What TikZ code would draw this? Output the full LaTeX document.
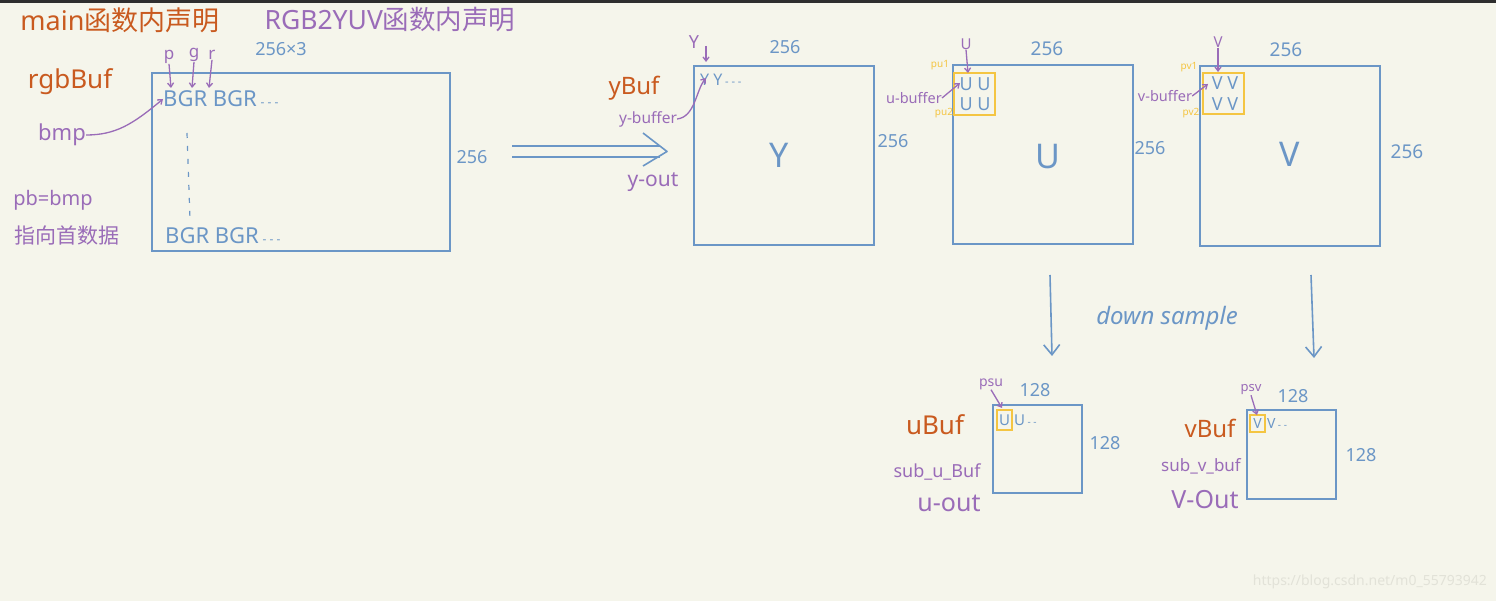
\documentclass[tikz,border=0pt]{standalone}
\usepackage{fontspec}
\setmainfont{Noto Sans}
\newfontfamily\cjk{Noto Sans CJK SC}
\usetikzlibrary{arrows.meta,calc}
\definecolor{bg}{HTML}{F5F5EB}
\definecolor{darkbar}{HTML}{2E2E2E}
\definecolor{hblue}{HTML}{6B96C6}
\definecolor{horange}{HTML}{C95A1F}
\definecolor{hpurple}{HTML}{9A6CB8}
\definecolor{hyellow}{HTML}{F4C542}
\definecolor{wm}{HTML}{E2E2D8}
\begin{document}
\begin{tikzpicture}[x=1pt,y=-1pt,
  blbox/.style={draw=hblue, line width=2pt, inner sep=0pt},
  ylbox/.style={draw=hyellow, line width=2pt, inner sep=0pt},
  txt/.style={inner sep=0pt},
  bl/.style={txt, text=hblue},
  org/.style={txt, text=horange},
  pur/.style={txt, text=hpurple},
  yel/.style={txt, text=hyellow},
  fs/.style={font=\fontsize{#1}{#1}\selectfont},
  parrow/.style={draw=hpurple, line width=1.3pt, -{Straight Barb[length=4pt,width=6pt]}},
  barrow/.style={draw=hblue, line width=1.6pt, -{Straight Barb[length=10pt,width=16pt]}},
  dline/.style={draw=hblue, line width=1.6pt}]
\fill[bg] (0,0) rectangle (1496,601);
\fill[darkbar] (0,0) rectangle (1496,3);
\useasboundingbox (0,0) rectangle (1496,601);

% titles
\node[org, fs=27] (t1) at (120,20) {main\cjk 函数内声明};
\node[pur, fs=26.5] (t2) at (390,20) {RGB2YUV\cjk 函数内声明};

% rgb buffer
\node[blbox, minimum width=298pt, minimum height=178pt] (rgb) at (301,162) {};
\node[bl, fs=18] (rgbw) at (281,49) {256×3};
\node[bl, fs=18] (rgbh) at (472,157) {256};
\node[org, fs=26] (rgbBuf) at (70,82) {rgbBuf};
\node[bl, fs=22, anchor=west] (bgr1) at (163,99) {BGR BGR\,\fontsize{12}{12}\selectfont - - -};
\node[bl, fs=22, anchor=west] (bgr2) at (165,236) {BGR BGR\,\fontsize{12}{12}\selectfont - - -};
\coordinate (dotA) at (187,133);
\coordinate (dotB) at (190,219);
\draw[hblue, line width=1.2pt, dash pattern=on 5pt off 8pt] (dotA) -- (dotB);
\node[pur, fs=17] (lp) at (169,57) {p};
\node[pur, fs=17] (lg) at (194,55) {g};
\node[pur, fs=17] (lr) at (212,55) {r};
\coordinate (ap) at (171,88);
\coordinate (ag) at (192,88);
\coordinate (ar) at (209,88);
\draw[parrow] (lp.south) -- (ap);
\draw[parrow] (lg.south) -- (ag);
\draw[parrow] (lr.south) -- (ar);
\node[pur, fs=22] (bmp) at (62,135) {bmp};
\draw[parrow] (bmp.east) .. controls +(30,0) and +(-30,25) .. (bgr1.west);
\node[pur, fs=20] (pb) at (53,200) {pb=bmp};
\node[pur, fs=21] (zx) at (67,236) {\cjk 指向首数据};

% double arrow
\coordinate (dA1) at (512,146);
\coordinate (dB1) at (660,146);
\coordinate (dA2) at (512,157);
\coordinate (dB2) at (660,157);
\coordinate (dTip) at (667,151.5);
\coordinate (dUp) at (643,133);
\coordinate (dDn) at (643,166);
\draw[dline] (dA1) -- (dB1);
\draw[dline] (dA2) -- (dB2);
\draw[dline, line join=round] (dUp) -- (dTip) -- (dDn);

% Y buffer
\node[blbox, minimum width=180pt, minimum height=179pt] (ybox) at (784,155.5) {};
\node[bl, fs=18] (yw) at (785,47) {256};
\node[bl, fs=18] (yh) at (893,141) {256};
\node[bl, fs=34] (ybig) at (779,155) {Y};
\node[bl, fs=16, anchor=west] (yrow) at (700,80) {Y Y\,\fontsize{11}{11}\selectfont - - -};
\node[org, fs=24] (yBuf) at (634,88) {yBuf};
\node[pur, fs=15.5] (ybuffer) at (648,119) {y-buffer};
\node[pur, fs=21] (yout) at (653,182) {y-out};
\node[pur, fs=18] (ylab) at (694,42) {Y};
\coordinate (ya) at (706,62);
\coordinate (yt) at (706,46);
\coordinate (yc) at (706,78);
\draw[parrow] (yt) -- (ya);
\draw[parrow] (ybuffer.east) .. controls +(18,-2) and +(-10,12) .. (yc);

% U buffer
\node[blbox, minimum width=180pt, minimum height=179pt] (ubox) at (1043,154.5) {};
\node[bl, fs=19] (uw) at (1047,49) {256};
\node[bl, fs=18] (uh) at (1150,148) {256};
\node[bl, fs=34] (ubig) at (1048,157) {U};
\node[ylbox, minimum width=41pt, minimum height=42pt] (uy) at (974.5,94) {};
\node[bl, fs=18] (uu1) at (975,84) {U U};
\node[bl, fs=18] (uu2) at (975,104) {U U};
\node[pur, fs=14.5] (ubuffer) at (914,98) {u-buffer};
\node[yel, fs=10] (pu1) at (940,65) {pu1};
\node[yel, fs=10] (pu2) at (944,113) {pu2};
\node[pur, fs=15] (ulab) at (966,44) {U};
\coordinate (ua) at (968,73);
\coordinate (uc) at (960,83);
\draw[parrow] (ulab.south) -- (ua);
\draw[parrow] (ubuffer.east) -- (uc);

% V buffer
\node[blbox, minimum width=180pt, minimum height=180pt] (vbox) at (1290,156) {};
\node[bl, fs=19] (vw) at (1286,50) {256};
\node[bl, fs=19] (vh) at (1407,152) {256};
\node[bl, fs=34] (vbig) at (1290,154) {V};
\node[ylbox, minimum width=41pt, minimum height=41pt] (vy) at (1223.5,93.5) {};
\node[bl, fs=18] (vv1) at (1225,83) {V V};
\node[bl, fs=18] (vv2) at (1225,104) {V V};
\node[pur, fs=14.5] (vbuffer) at (1165,96) {v-buffer};
\node[yel, fs=10] (pv1) at (1189,67) {pv1};
\node[yel, fs=10] (pv2) at (1191,113) {pv2};
\node[pur, fs=15] (vlab) at (1218,42) {V};
\coordinate (va) at (1218,72);
\coordinate (vc) at (1208,84);
\draw[parrow] (vlab.south) -- (va);
\draw[parrow] (vbuffer.east) -- (vc);

% down sample
\coordinate (dsu1) at (1050,275);
\coordinate (dsu2) at (1052,356);
\coordinate (dsv1) at (1311,275);
\coordinate (dsv2) at (1314,358);
\draw[barrow] (dsu1) -- (dsu2);
\draw[barrow] (dsv1) -- (dsv2);
\node[bl, font=\itshape\fontsize{24}{24}\selectfont] (ds) at (1167,318) {down sample};

% small u buffer
\node[blbox, minimum width=89pt, minimum height=88pt] (ubuf) at (1037.5,449) {};
\node[bl, fs=18] (ubw) at (1035,390) {128};
\node[bl, fs=18] (ubh) at (1105,443) {128};
\node[ylbox, minimum width=15pt, minimum height=20pt] (usel) at (1004.5,420) {};
\node[bl, fs=15] (us1) at (1004.5,420) {U};
\node[bl, fs=15, anchor=west] (us2) at (1014,420) {U\,\fontsize{10}{10}\selectfont - -};
\node[pur, fs=14] (psu) at (991,384) {psu};
\coordinate (psua) at (1002,408);
\draw[parrow] (psu.south) -- (psua);
\node[org, fs=26] (uBuf) at (935,425) {uBuf};
\node[pur, fs=18] (subu) at (937,472) {sub\_u\_Buf};
\node[pur, fs=25] (uout) at (949,503) {u-out};

% small v buffer
\node[blbox, minimum width=89pt, minimum height=89pt] (vbuf) at (1291.5,454.5) {};
\node[bl, fs=18] (vbw) at (1293,396) {128};
\node[bl, fs=18] (vbh) at (1361,455) {128};
\node[ylbox, minimum width=15pt, minimum height=17pt] (vsel) at (1257.5,423.5) {};
\node[bl, fs=14] (vs1) at (1257.5,423.5) {V};
\node[bl, fs=14, anchor=west] (vs2) at (1267,424) {V\,\fontsize{10}{10}\selectfont - -};
\node[pur, fs=13] (psv) at (1251,390) {psv};
\coordinate (psva) at (1257,415);
\draw[parrow] (psv.south) -- (psva);
\node[org, fs=24] (vBuf) at (1210,428) {vBuf};
\node[pur, fs=17] (subv) at (1201,466) {sub\_v\_buf};
\node[pur, fs=25] (vout) at (1205,500) {V-Out};

% watermark
\node[txt, text=wm, fs=14, anchor=east] (wmk) at (1487,582) {https://blog.csdn.net/m0\_55793942};
\end{tikzpicture}
\end{document}
